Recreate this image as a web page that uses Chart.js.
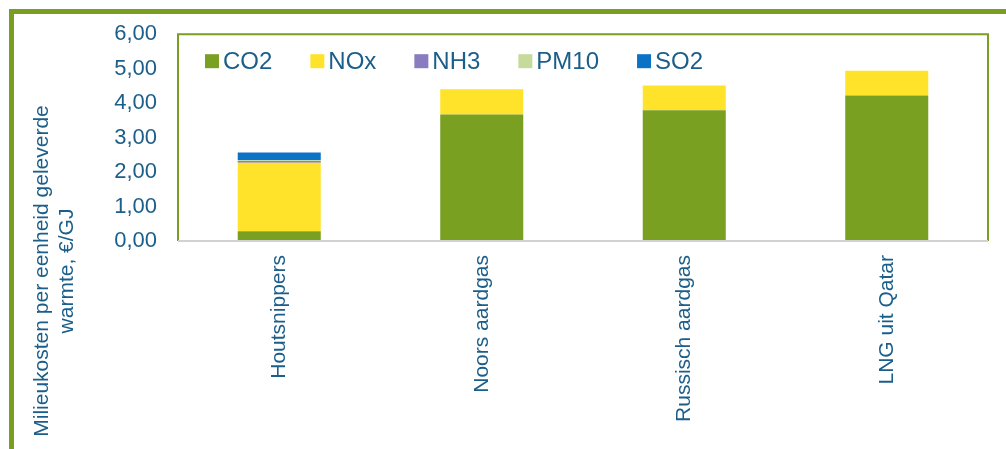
<!DOCTYPE html>
<html>
<head>
<meta charset="utf-8">
<script src="https://cdn.jsdelivr.net/npm/chart.js@4/dist/chart.umd.min.js"></script>
<style>
  html, body { margin: 0; padding: 0; background: #fff; overflow: hidden; }
  #frame { position: absolute; left: 9px; top: 9px; width: 1100px; height: 500px; border: 5px solid #7a9e22; box-sizing: border-box; }
  #wrap { position: absolute; left: 0; top: 0; width: 1006px; height: 449px; }
</style>
</head>
<body>
<div id="frame"></div>
<div id="wrap"><canvas id="chart"></canvas></div>
<script>
// values, in €/GJ
var categories = ['Houtsnippers', 'Noors aardgas', 'Russisch aardgas', 'LNG uit Qatar'];
var co2  = [0.28, 3.67, 3.79, 4.22];
var nox  = [1.99, 0.73, 0.72, 0.72];
var nh3  = [0.05, 0, 0, 0];
var pm10 = [0.02, 0, 0, 0];
var so2  = [0.23, 0, 0, 0];
var yTicks = [0, 1, 2, 3, 4, 5, 6];
var yTitle = ['Milieukosten per eenheid geleverde', 'warmte, €/GJ'];

var textColor = '#1b5e8a';
var green = '#7a9e22';
var font = '"Liberation Sans", Arial, sans-serif';

// y title sits lower than the axis middle, so draw it by hand
var titlePlugin = {
  id: 'yTitle',
  afterDraw: function(chart) {
    var ctx = chart.ctx;
    ctx.save();
    ctx.translate(0, 271);
    ctx.rotate(-Math.PI / 2);
    ctx.font = '21px ' + font;
    ctx.fillStyle = textColor;
    ctx.textAlign = 'center';
    ctx.fillText(yTitle[0], 0, 48);
    ctx.fillText(yTitle[1], 0, 73);
    ctx.restore();
  }
};

// legend in one row inside the plot area
var legendPlugin = {
  id: 'innerLegend',
  afterDraw: function(chart) {
    var a = chart.chartArea, ctx = chart.ctx;
    var x = a.left + 27, y = a.top + 27;
    ctx.save();
    ctx.font = '24px ' + font;
    ctx.textBaseline = 'middle';
    chart.data.datasets.forEach(function(d) {
      ctx.fillStyle = d.backgroundColor;
      ctx.fillRect(x, y - 7, 14, 14);
      ctx.fillStyle = textColor;
      ctx.fillText(d.label, x + 18, y + 1);
      x += 18 + ctx.measureText(d.label).width + 38;
    });
    ctx.restore();
  }
};

// green box round the plot area, grey base line
var boxPlugin = {
  id: 'plotBox',
  afterDatasetsDraw: function(chart) {
    var a = chart.chartArea, ctx = chart.ctx;
    ctx.save();
    ctx.lineWidth = 2;
    ctx.strokeStyle = green;
    ctx.beginPath();
    ctx.moveTo(a.left, a.bottom);
    ctx.lineTo(a.left, a.top);
    ctx.lineTo(a.right, a.top);
    ctx.lineTo(a.right, a.bottom);
    ctx.stroke();
    ctx.strokeStyle = '#d2d2d2';
    ctx.beginPath();
    ctx.moveTo(a.left, a.bottom);
    ctx.lineTo(a.right, a.bottom);
    ctx.stroke();
    ctx.restore();
  }
};

function ds(label, data, color) {
  return { label: label, data: data, backgroundColor: color, borderWidth: 0,
           barPercentage: 0.41, categoryPercentage: 1 };
}

new Chart(document.getElementById('chart'), {
  type: 'bar',
  data: {
    labels: categories,
    datasets: [
      ds('CO2', co2, '#7aa022'),
      ds('NOx', nox, '#ffe32a'),
      ds('NH3', nh3, '#8a7cc0'),
      ds('PM10', pm10, '#c6da9c'),
      ds('SO2', so2, '#0b73c6')
    ]
  },
  options: {
    responsive: true,
    maintainAspectRatio: false,
    animation: false,
    layout: { padding: { top: 33, right: 18, left: 0, bottom: 0 } },
    plugins: {
      legend: { display: false },
      tooltip: { enabled: false }
    },
    scales: {
      x: {
        stacked: true,
        grid: { display: false, drawTicks: false },
        border: { display: false },
        ticks: {
          minRotation: 90,
          maxRotation: 90,
          padding: 14,
          color: textColor,
          font: { family: font, size: 21 }
        },
        afterFit: function(s) { s.height = 208; }
      },
      y: {
        stacked: true,
        min: 0,
        max: 6,
        grid: { display: false, drawTicks: false },
        border: { display: false },
        afterBuildTicks: function(s) { s.ticks = yTicks.map(function(v) { return { value: v }; }); },
        ticks: {
          padding: 21,
          color: textColor,
          font: { family: font, size: 22 },
          callback: function(v) { return v.toFixed(2).replace('.', ','); }
        },
        afterFit: function(s) { s.width = 178; }
      }
    }
  },
  plugins: [titlePlugin, legendPlugin, boxPlugin]
});
</script>
</body>
</html>
